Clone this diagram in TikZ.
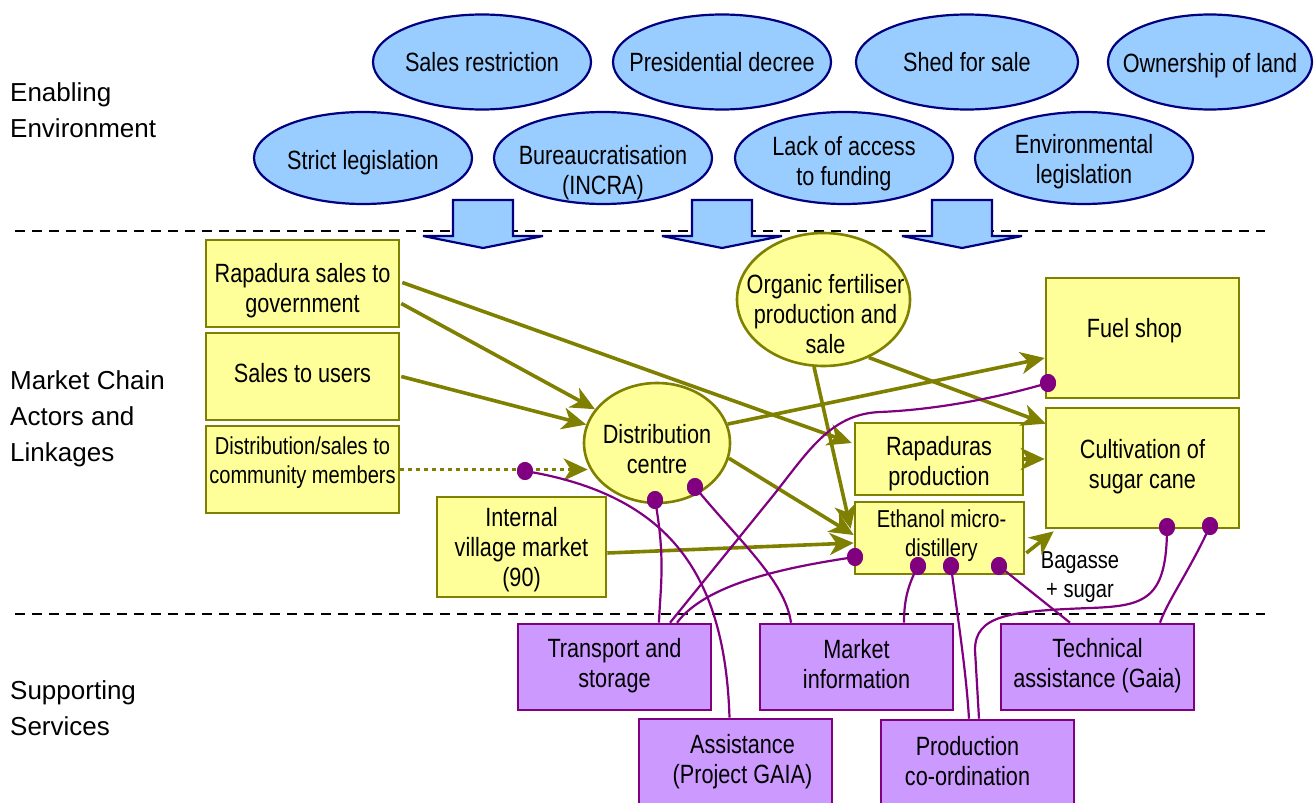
\documentclass[tikz,border=0pt]{standalone}
\usepackage{fontspec}
\setmainfont{Liberation Sans}[FakeStretch=0.82]
\newfontfamily\regfont{Liberation Sans}
\usetikzlibrary{arrows.meta,calc,shapes.geometric}
\definecolor{bfill}{HTML}{99CCFF}
\definecolor{bline}{HTML}{000080}
\definecolor{yfill}{HTML}{FFFF99}
\definecolor{yline}{HTML}{808000}
\definecolor{pfill}{HTML}{CC99FF}
\definecolor{pline}{HTML}{800080}
\newcommand\mainsz{\fontsize{26.4}{30}\selectfont}
\newcommand\smallsz{\fontsize{24.5}{29}\selectfont}
\tikzset{
  envell/.style={ellipse, draw=bline, fill=bfill, line width=2.2pt, minimum width=218pt, minimum height=95pt, inner sep=0pt},
  txt/.style={font=\mainsz, align=center, inner sep=0pt, text=black},
  stxt/.style={font=\smallsz, align=center, inner sep=0pt, text=black},
  ybox/.style={rectangle, draw=yline, fill=yfill, line width=2.6pt, inner sep=0pt},
  yell/.style={ellipse, draw=yline, fill=yfill, line width=2.6pt, inner sep=0pt},
  pbox/.style={rectangle, draw=pline, fill=pfill, line width=2.6pt, inner sep=0pt},
  blockarrow/.style={draw=bline, fill=bfill, line width=2.2pt, line join=miter},
  sepline/.style={black, line width=2.2pt, dash pattern=on 10pt off 7pt},
  flow/.style={draw=yline, line width=3.6pt, -{Stealth[length=24pt,width=22pt,inset=7pt]}},
  dotflow/.style={flow, dash pattern=on 4pt off 4pt},
  link/.style={draw=pline, line width=2.2pt},
  pdot/.style={ellipse, fill=pline, minimum width=16pt, minimum height=18pt, inner sep=0pt},
  side/.style={font=\regfont\fontsize{26}{36}\selectfont, align=left, anchor=west, inner sep=0pt},
}
\begin{document}
\begin{tikzpicture}[x=1pt,y=-1pt]
\useasboundingbox[fill=white] (0,0) rectangle (1315,803);

% separators
\draw[sepline] (15,231) -- (1265,231);
\draw[sepline] (15,614) -- (1265,614);

% side labels
\node[side] (lab1) at (10,110) {Enabling\\Environment};
\node[side] (lab2) at (10,419) {Market Chain\\Actors and\\Linkages};
\node[side] (lab3) at (10,708) {Supporting\\Services};

% enabling environment
\node[envell, label={[txt]center:Sales restriction}] (e1) at (482,62) {};
\node[envell, label={[txt]center:Presidential decree}] (e2) at (722,62) {};
\node[envell, minimum width=222pt, label={[txt]center:Shed for sale}] (e3) at (967,62) {};
\node[envell, minimum width=204pt, label={[txt,yshift=-4pt]center:Ownership of land}] (e4) at (1210,62) {};
\node[envell, minimum height=92pt, label={[txt,yshift=-5pt]center:Strict legislation}] (e5) at (363,158) {};
\node[envell, minimum height=92pt, label={[txt,yshift=-15pt]center:Bureaucratisation\\(INCRA)}] (e6) at (603,158) {};
\node[envell, minimum height=92pt, label={[txt,yshift=-6pt]center:Lack of access\\to funding}] (e7) at (844,158) {};
\node[envell, minimum height=92pt, label={[txt,yshift=-4pt]center:Environmental\\legislation}] (e8) at (1084,158) {};

% block arrows
\foreach \cx in {483,722,962}
  \draw[blockarrow] (\cx-30,200) -- (\cx+30,200) -- (\cx+30,236) -- (\cx+60,236)
     -- (\cx,248) -- (\cx-60,236) -- (\cx-30,236) -- cycle;

% market chain actors
\node[ybox, minimum width=193pt, minimum height=87pt, label={[txt,yshift=-7pt]center:Rapadura sales to\\government}] (rgov) at (302.5,283.5) {};
\node[ybox, minimum width=193pt, minimum height=87pt, label={[txt,yshift=3pt]center:Sales to users}] (susers) at (302.5,376.5) {};
\node[ybox, minimum width=193pt, minimum height=87pt, label={[stxt,yshift=7pt]center:Distribution/sales to\\community members}] (dsales) at (302.5,469.5) {};
\node[ybox, minimum width=169pt, minimum height=100pt, label={[txt,yshift=-3pt]center:Internal\\village market\\(90)}] (ivm) at (521.5,547) {};
\node[yell, minimum width=146pt, minimum height=120pt, label={[txt,yshift=-6pt]center:Distribution\\centre}] (dc) at (657,443) {};
\node[yell, minimum width=173pt, minimum height=133pt, label={[txt,yshift=-15pt,xshift=2pt]center:Organic fertiliser\\production and\\sale}] (org) at (823.5,299.5) {};
\node[ybox, minimum width=193pt, minimum height=120pt, label={[txt,yshift=7pt,xshift=-8pt]center:Fuel shop}] (fuel) at (1142.5,338) {};
\node[ybox, minimum width=193pt, minimum height=120pt, label={[txt,yshift=1pt]center:Cultivation of\\sugar cane}] (cult) at (1142.5,468) {};
\node[ybox, minimum width=168pt, minimum height=72pt, label={[txt,yshift=-5pt]center:Rapaduras\\production}] (rprod) at (939,459) {};
\node[ybox, minimum width=169pt, minimum height=72pt, label={[stxt,yshift=2pt,xshift=2pt]center:Ethanol micro-\\distillery}] (eth) at (939.5,538) {};
\node[stxt] (bag) at (1080,577) {Bagasse\\+ sugar};

% supporting services
\node[pbox, minimum width=193pt, minimum height=86pt, label={[txt,yshift=1pt]center:Transport and\\storage}] (trans) at (614.5,667) {};
\node[pbox, minimum width=193pt, minimum height=86pt, label={[txt,yshift=3pt]center:Market\\information}] (minfo) at (856.5,667) {};
\node[pbox, minimum width=193pt, minimum height=86pt, label={[txt,yshift=1pt]center:Technical\\assistance (Gaia)}] (tech) at (1097.5,667) {};
\node[pbox, minimum width=193pt, minimum height=96pt, label={[txt,yshift=5pt,xshift=7pt]center:Assistance\\(Project GAIA)}] (assist) at (735.5,767) {};
\node[pbox, minimum width=193pt, minimum height=94pt, label={[txt,yshift=6pt,xshift=-10pt]center:Production\\co-ordination}] (prodco) at (977.5,767) {};

% market linkages
\draw[flow] ($(rgov.east)+(2,-1)$) -- ($(rprod.west)+(-2,-16)$);
\draw[flow] ($(rgov.east)+(1,20)$) -- (dc);
\draw[flow] ($(susers.east)+(1,0)$) -- (dc);
\draw[dotflow] (dsales.east) -- ($(dsales.east -| dc.west)+(5,0)$);
\draw[flow] (dc.15) -- ($(fuel.west)+(0,20)$);
\draw[flow] (dc.-12) -- ($(eth.west)+(0,-3)$);
\draw[flow] ($(ivm.east)+(0,6)$) -- ($(eth.west)+(0,5)$);
\draw[flow] (org.-98) -- ($(eth.north west)+(-3,28)$);
\draw[flow] (org.-52) -- ($(cult.north west)+(1,17)$);
\draw[flow] (rprod.east) -- (rprod.east -| cult.west);
\draw[flow] ($(eth.east)+(1,15)$) -- ($(cult.south west)+(9,2)$);

% service dots
\node[pdot] (d1) at (525,471) {};
\node[pdot] (d2) at (655,500) {};
\node[pdot] (d3) at (695,487) {};
\node[pdot] (d4) at (1048,383) {};
\node[pdot] (d5) at (855,557) {};
\node[pdot] (d6) at (918,566) {};
\node[pdot] (d7) at (951,566) {};
\node[pdot] (d8) at (999,566) {};
\node[pdot] (d9) at (1167,527) {};
\node[pdot] (d10) at (1210,526) {};

% service links
\draw[link] (d1.center) .. controls (670,495) and (725,575) .. ($(assist.north)+(-6,0)$);
\draw[link] (d2.center) .. controls (666,560) and (660,590) .. ($(trans.north)+(44.5,0)$);
\draw[link] (d3.center) .. controls (738,540) and (785,580) .. ($(minfo.north)+(-65.5,0)$);
\draw[link] (d4.center) .. controls (990,400) and (930,410) .. (880,412)
   .. controls (830,414) and (808,452) .. (772,497) -- ($(trans.north)+(55.5,0)$);
\draw[link] (d5.center) .. controls (780,568) and (705,585) .. ($(trans.north)+(62.5,0)$);
\draw[link] (d6.center) .. controls (908,585) and (904,600) .. ($(minfo.north)+(47.5,0)$);
\draw[link] (d7.center) .. controls (958,620) and (966,670) .. ($(prodco.north)+(-8.5,0)$);
\draw[link] (d8.center) -- ($(tech.north)+(-27.5,0)$);
\draw[link] (d9.center) .. controls (1167,600) and (1145,606) .. (1090,608)
   .. controls (1010,611) and (975,615) .. (975,650) -- ($(prodco.north)+(1.5,0)$);
\draw[link] (d10.center) .. controls (1190,570) and (1168,600) .. ($(tech.north)+(62.5,0)$);
% dots on top of the links
\foreach \d in {d1,d2,d3,d4,d5,d6,d7,d8,d9,d10}
  \fill[pline] (\d.center) ellipse [x radius=8pt, y radius=9pt];
\end{tikzpicture}
\end{document}
